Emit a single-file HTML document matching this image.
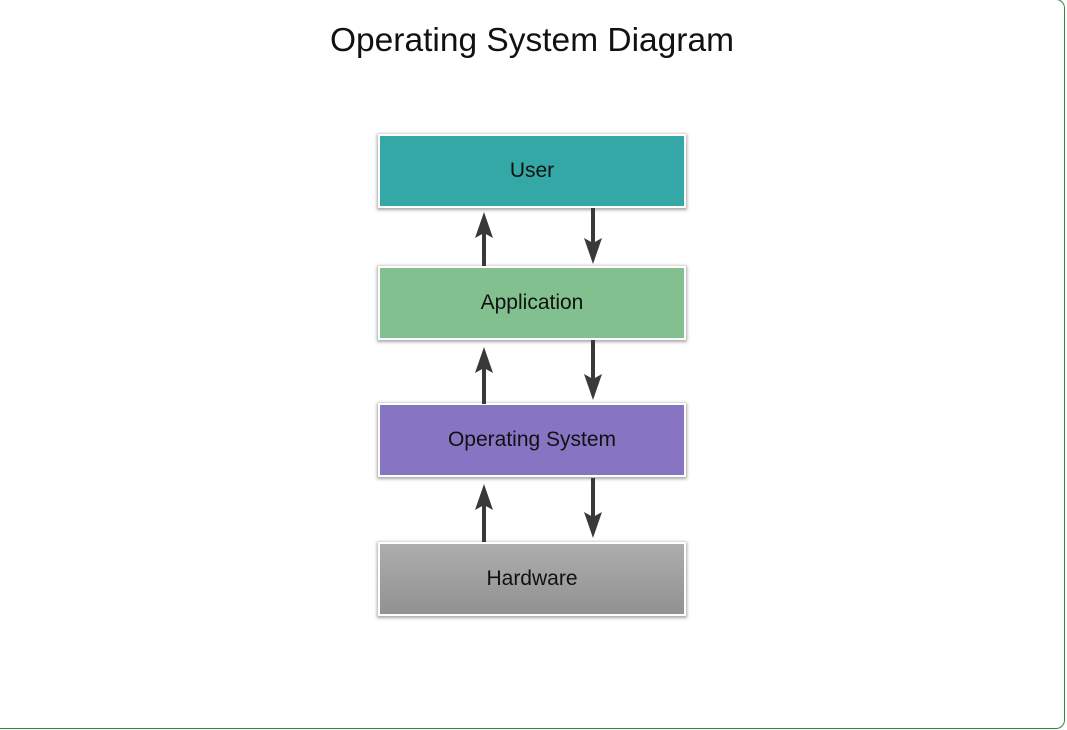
<!DOCTYPE html>
<html><head><style>
body{margin:0;width:1067px;height:730px;background:#fff;position:relative;overflow:hidden;font-family:"Liberation Sans",sans-serif}
.frame{position:absolute;left:-10px;top:-1px;width:1075px;height:730px;border:1px solid #2e8b3e;border-radius:9px;box-sizing:border-box}
h1{position:absolute;top:22px;left:0;width:1064px;text-align:center;margin:0;font-weight:normal;font-size:33.5px;color:#111}
.b{position:absolute;left:378px;width:308px;height:74px;box-sizing:border-box;border:2px solid #fff;box-shadow:0 1px 3px 1px rgba(0,0,0,.35);display:flex;align-items:center;justify-content:center;font-size:21px;color:#111}
</style></head><body>
<div class="frame"></div>
<h1>Operating System Diagram</h1>
<div class="b" style="top:134px;background:#33a8a6">User</div>
<div class="b" style="top:266px;background:#82c18f">Application</div>
<div class="b" style="top:403px;background:#8775c4">Operating System</div>
<div class="b" style="top:542px;background:linear-gradient(#aeadad,#929191)">Hardware</div>
<svg width="1067" height="730" style="position:absolute;left:0;top:0">
<g stroke="#3a3838" stroke-width="4" fill="#3a3838">
<line x1="484" y1="266" x2="484" y2="225"/><polygon points="484,212 475,238 484,233 493,238" stroke="none"/>
<line x1="593" y1="208" x2="593" y2="250"/><polygon points="593,264 584,238 593,243 602,238" stroke="none"/>
<line x1="484" y1="404" x2="484" y2="360"/><polygon points="484,347 475,373 484,368 493,373" stroke="none"/>
<line x1="593" y1="340" x2="593" y2="386"/><polygon points="593,400 584,374 593,379 602,374" stroke="none"/>
<line x1="484" y1="542" x2="484" y2="497"/><polygon points="484,484 475,510 484,505 493,510" stroke="none"/>
<line x1="593" y1="478" x2="593" y2="524"/><polygon points="593,538 584,512 593,517 602,512" stroke="none"/>
</g></svg>
</body></html>
